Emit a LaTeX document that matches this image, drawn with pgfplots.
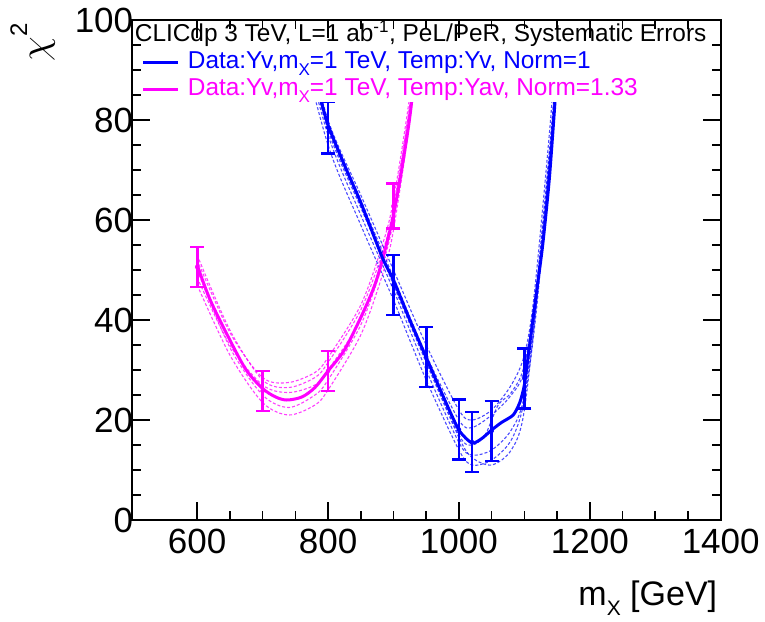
\RequirePackage{fix-cm}
\documentclass[border=0pt]{standalone}
\usepackage{fontspec}
\setmainfont{Liberation Sans}
\usepackage{pgfplots}
\pgfplotsset{compat=1.18}
\definecolor{rblue}{RGB}{0,0,255}
\definecolor{rmag}{RGB}{255,0,255}
\newcommand{\subX}{\raisebox{-0.55ex}{\fontsize{17}{17}\selectfont X}}
\begin{document}
\begin{tikzpicture}
\path[use as bounding box] (-131.7pt,-101pt) rectangle (633.3pt,520pt);
\begin{axis}[
  scale only axis, width=589pt, height=500pt,
  at={(0,0)}, anchor=south west,
  xmin=500, xmax=1400, ymin=0, ymax=100,
  xtick={600,800,1000,1200,1400}, ytick={0,20,40,60,80,100},
  minor x tick num=3, minor y tick num=3,
  tick align=inside, major tick length=18pt, minor tick length=9pt,
  every tick/.style={line width=1.6pt, black},
  axis line style={line width=1.8pt},
  axis on top,
  clip=true,
  /pgf/number format/assume math mode=true,
  /pgf/number format/1000 sep={},
  ticklabel style={font=\fontsize{35}{39}\selectfont},
  xticklabel style={yshift=-6pt},
  yticklabel style={xshift=5pt},
  every axis y label/.style={at={(rel axis cs:-0.168,1)}, anchor=east, rotate=90, font=\fontsize{40}{44}\selectfont},
  ylabel={$\chi$\raisebox{0.5em}{\fontsize{24}{24}\selectfont 2}},
  every axis x label/.style={at={(rel axis cs:1,-0.17)}, anchor=base east, font=\fontsize{34}{38}\selectfont},
  xlabel={m\raisebox{-0.32em}{\fontsize{21}{21}\selectfont X} [GeV]},
  legend style={at={(rel axis cs:0,1)}, anchor=north west, draw=none, fill=none,
    inner xsep=10pt, inner ysep=3pt, row sep=2pt,
    font=\fontsize{24.4}{26}\selectfont,
    nodes={inner sep=2pt, text height=16pt, text depth=5pt}},
  legend cell align=left,
  legend image code/.code={\draw[#1, line width=3pt] (0pt,0pt) -- (35pt,0pt);},
]
% dashed systematic variations, magenta
\addplot[rmag, opacity=0.75, line width=1.1pt, dash pattern=on 3pt off 2pt, smooth, forget plot] coordinates {(600,47)(650,33)(700,23.5)(740,21)(780,23)(800,26)(850,37)(883,49)(900,58)(928,83)(937,100)};
\addplot[rmag, opacity=0.75, line width=1.1pt, dash pattern=on 3pt off 2pt, smooth, forget plot] coordinates {(600,53)(650,38)(700,28)(740,26.5)(780,28.5)(800,31.5)(850,42)(883,53.5)(900,62.5)(928,86)(935,100)};
\addplot[rmag, opacity=0.75, line width=1.1pt, dash pattern=on 3pt off 2pt, smooth, forget plot] coordinates {(600,50)(650,34.5)(700,25)(740,22.5)(780,25)(800,28)(850,39)(883,51)(900,60)(928,84)(936,100)};
\addplot[rmag, opacity=0.75, line width=1.1pt, dash pattern=on 3pt off 2pt, smooth, forget plot] coordinates {(600,52)(650,37.5)(700,28.5)(740,27.5)(780,29.5)(800,32.5)(850,43)(883,55)(900,64)(926,86)(933,100)};
\addplot[rmag, opacity=0.75, line width=1.1pt, dash pattern=on 3pt off 2pt, smooth, forget plot] coordinates {(600,48.5)(650,35)(700,27)(740,25.5)(780,27)(800,30)(850,40)(883,52)(900,61.5)(927,85)(935,100)};
% dashed systematic variations, blue
\addplot[rblue, opacity=0.7, line width=1.1pt, dash pattern=on 3pt off 2pt, smooth, forget plot] coordinates {(750,100)(800,75)(850,59)(900,44)(950,28)(1000,14)(1020,11)(1050,12)(1080,16)(1100,24)(1120,44)(1145,84)(1152,100)};
\addplot[rblue, opacity=0.7, line width=1.1pt, dash pattern=on 3pt off 2pt, smooth, forget plot] coordinates {(760,100)(800,80)(850,65)(900,50)(950,35)(1000,22)(1020,20)(1050,22)(1080,27)(1100,33)(1115,45)(1140,80)(1150,100)};
\addplot[rblue, opacity=0.7, line width=1.1pt, dash pattern=on 3pt off 2pt, smooth, forget plot] coordinates {(758,100)(800,79.5)(850,64)(900,48.5)(950,33)(1000,20)(1020,18.5)(1050,21)(1080,25)(1100,30)(1118,46)(1145,84)(1153,100)};
\addplot[rblue, opacity=0.7, line width=1.1pt, dash pattern=on 3pt off 2pt, smooth, forget plot] coordinates {(753,100)(800,77)(850,61)(900,46)(950,30)(1000,15.5)(1020,13)(1050,14)(1080,18)(1100,25)(1122,48)(1148,86)(1155,100)};
\addplot[rblue, opacity=0.7, line width=1.1pt, dash pattern=on 3pt off 2pt, smooth, forget plot] coordinates {(757,100)(800,78)(850,62.5)(900,47.5)(950,32)(1000,17)(1020,15)(1040,17)(1060,23)(1080,25.5)(1100,31)(1120,48)(1146,84)(1154,100)};
\addplot[rblue, opacity=0.7, line width=1.1pt, dash pattern=on 3pt off 2pt, smooth, forget plot] coordinates {(755,100)(800,78.5)(850,63)(900,47)(950,31.5)(1000,16.5)(1020,12.5)(1050,11)(1080,14)(1100,22)(1125,52)(1150,90)(1156,100)};
% main curves
\addplot[rmag, line width=3pt, smooth, tension=0.5, forget plot] coordinates {(600,51)(620,44)(650,36)(675,30)(700,26.3)(720,24.6)(737,24)(760,24.6)(780,26.5)(800,29.8)(825,34)(850,40.5)(870,46.5)(883,52)(900,61)(915,72)(928,84)(936,100)};
\addplot[rblue, line width=3pt, smooth, tension=0.4, forget plot] coordinates {(756,100)(770,93)(788,84.5)(800,79)(825,71)(850,63.5)(883,52.5)(900,48)(925,40)(950,32.5)(975,25)(1000,18)(1020,15.4)(1035,16.3)(1050,18)(1065,19.5)(1083,21)(1093,23.5)(1100,27)(1108,35)(1118,45)(1128,55)(1138,68)(1147,84)(1155,100)};
% data points with errors
\addplot[rblue, only marks, mark=none, forget plot, error bars/.cd, y dir=both, y explicit,
  error bar style={line width=2.8pt, rblue}, error mark options={rotate=90, mark size=7pt, line width=2.8pt, rblue}]
  coordinates {(800,78.5)+-(0,5.2) (900,47)+-(0,6) (950,32.6)+-(0,6) (1000,18.1)+-(0,6) (1020,15.6)+-(0,6) (1050,17.8)+-(0,6) (1100,28.3)+-(0,6)};
\addplot[rmag, only marks, mark=none, forget plot, error bars/.cd, y dir=both, y explicit,
  error bar style={line width=2.8pt, rmag}, error mark options={rotate=90, mark size=7pt, line width=2.8pt, rmag}]
  coordinates {(600,50.6)+-(0,4) (700,25.8)+-(0,4) (800,29.8)+-(0,4) (900,62.8)+-(0,4.5)};
% legend box (white) covering top of the frame
\fill[white] (rel axis cs:0,0.836) rectangle (rel axis cs:0.985,1);
\addlegendimage{empty legend}
\addlegendentry{\hspace*{-47pt}CLICdp 3 TeV, L=1 ab\textsuperscript{-1}, PeL/PeR, Systematic Errors}
\addlegendimage{rblue}
\addlegendentry{\hspace*{6pt}\textcolor{rblue}{Data:Yv,m\subX=1 TeV, Temp:Yv, Norm=1}}
\addlegendimage{rmag}
\addlegendentry{\hspace*{6pt}\textcolor{rmag}{Data:Yv,m\subX=1 TeV, Temp:Yav, Norm=1.33}}
\end{axis}
\end{tikzpicture}
\end{document}
